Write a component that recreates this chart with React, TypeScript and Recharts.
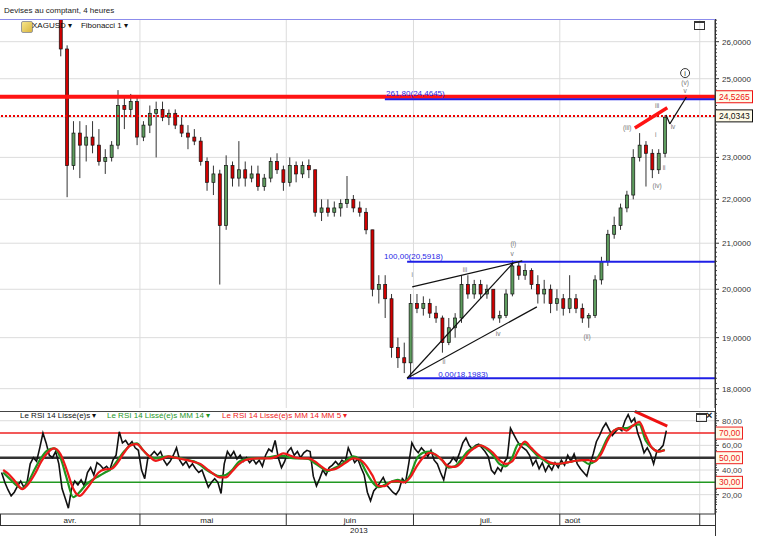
import React from 'react';
import { ComposedChart, Bar, Line, XAxis, YAxis, ReferenceLine, ReferenceDot, CartesianGrid } from 'recharts';

const FONT = '"Liberation Sans", Arial, Helvetica, sans-serif';

// ---- time axis (trading-day index, 0 = 1 April 2013) ----
const monthNames = ['avr.', 'mai', 'juin', 'juil.', 'août'];
const monthCenters = [11, 32.5, 55, 76.4, 90];
const monthBounds = [22, 45, 65, 88, 110];
const X_DOMAIN: [number, number] = [0, 112.4];

// ---- price panel ----
const priceTicks = [18, 19, 20, 21, 22, 23, 25, 26];
const priceGrid = [18, 19, 20, 21, 22, 23, 24, 25, 26];
const PRICE_DOMAIN: [number, number] = [17.635, 26.633];
const resistPrice = 24.5265;
const lastPrice = 24.0343;

const opens = [28.2, 28.0, 27.7, 27.3, 27.2, 27.6, 27.5, 28.0, 27.8, 27.6, 25.8, 22.8, 23.6, 23.3, 23.5, 23.3, 22.9, 23.0, 23.3, 24.3, 24.2, 24.4, 23.5, 23.8, 24.1, 24.2, 24.0, 24.1, 23.8, 23.6, 23.5, 23.4, 22.9, 22.4, 22.6, 21.4, 22.8, 22.5, 22.7, 22.5, 22.6, 22.3, 22.5, 22.9, 22.7, 22.4, 22.8, 22.6, 22.8, 22.7, 21.7, 21.8, 21.7, 21.8, 21.9, 22.0, 21.8, 21.7, 21.3, 20.0, 20.1, 19.8, 18.8, 18.6, 18.5, 19.7, 19.6, 19.7, 19.5, 19.4, 18.9, 19.2, 19.4, 20.1, 19.9, 20.1, 19.9, 20.0, 19.4, 19.45, 19.9, 20.5, 20.3, 20.4, 20.1, 19.9, 20.0, 19.7, 19.8, 19.6, 19.8, 19.6, 19.4, 19.45, 20.2, 20.6, 21.2, 21.4, 21.8, 22.1, 23.0, 23.3, 23.1, 22.7, 23.1];
const highs = [28.4, 28.1, 27.8, 27.5, 27.8, 27.9, 28.2, 28.1, 27.9, 27.8, 25.9, 23.9, 23.9, 23.8, 23.9, 23.7, 23.2, 23.4, 24.7, 24.5, 24.6, 24.5, 23.9, 24.3, 24.4, 24.4, 24.2, 24.2, 24.0, 23.8, 23.7, 23.5, 23.0, 22.8, 22.7, 23.05, 22.9, 23.4, 22.9, 22.8, 22.8, 22.6, 23.0, 23.1, 22.8, 23.0, 22.9, 22.9, 22.95, 22.7, 22.0, 22.0, 21.95, 22.0, 22.55, 22.1, 21.95, 21.8, 21.3, 20.3, 20.3, 19.9, 19.0, 18.9, 19.9, 19.9, 19.85, 19.8, 19.65, 19.45, 19.4, 19.5, 20.3, 20.3, 20.2, 20.2, 20.1, 20.0, 19.55, 20.0, 20.62, 20.6, 20.55, 20.45, 20.3, 20.2, 20.1, 20.0, 19.9, 20.3, 19.9, 19.7, 19.5, 20.3, 20.7, 21.3, 21.6, 21.9, 22.2, 23.2, 23.6, 23.4, 23.2, 23.2, 24.05];
const lows = [27.9, 27.6, 27.1, 26.9, 27.1, 27.4, 27.4, 27.6, 27.4, 25.6, 22.05, 22.7, 22.5, 22.9, 23.1, 22.8, 22.6, 22.9, 23.2, 23.7, 24.0, 23.3, 23.4, 23.6, 23.0, 23.9, 23.8, 23.7, 23.5, 23.2, 23.3, 22.8, 22.2, 22.1, 20.1, 21.3, 22.3, 22.3, 22.3, 22.4, 22.2, 22.2, 22.4, 22.6, 22.2, 22.3, 22.4, 22.5, 22.5, 21.6, 21.5, 21.6, 21.6, 21.6, 21.8, 21.7, 21.6, 21.2, 19.85, 19.7, 19.4, 18.6, 18.4, 18.3, 18.2, 19.5, 19.45, 19.4, 19.3, 18.7, 18.85, 19.0, 19.3, 19.8, 19.8, 19.8, 19.8, 19.35, 19.3, 19.4, 19.85, 20.2, 20.2, 20.0, 19.7, 19.7, 19.5, 19.55, 19.45, 19.5, 19.5, 19.3, 19.2, 19.4, 20.1, 20.5, 21.1, 21.3, 21.7, 22.0, 22.9, 22.3, 22.5, 22.6, 23.0];
const closes = [28.0, 27.7, 27.3, 27.2, 27.6, 27.5, 28.0, 27.8, 27.6, 25.8, 22.8, 23.6, 23.3, 23.5, 23.3, 22.9, 23.0, 23.3, 24.3, 24.2, 24.4, 23.5, 23.8, 24.1, 24.2, 24.0, 24.1, 23.8, 23.6, 23.5, 23.4, 22.9, 22.4, 22.6, 21.4, 22.8, 22.5, 22.7, 22.5, 22.6, 22.3, 22.5, 22.9, 22.7, 22.4, 22.8, 22.6, 22.8, 22.7, 21.7, 21.8, 21.7, 21.8, 21.9, 22.0, 21.8, 21.7, 21.3, 20.0, 20.1, 19.8, 18.8, 18.6, 18.5, 19.7, 19.6, 19.7, 19.5, 19.4, 18.9, 19.2, 19.4, 20.1, 19.9, 20.1, 19.9, 20.0, 19.4, 19.45, 19.9, 20.5, 20.3, 20.4, 20.1, 19.9, 20.0, 19.7, 19.8, 19.6, 19.8, 19.6, 19.4, 19.45, 20.2, 20.6, 21.2, 21.4, 21.8, 22.1, 23.0, 23.3, 23.1, 22.7, 23.1, 24.0];

// Fibonacci levels and their labels (day index, price)
const fibLevels = [
  { label: '261,80(24,4645)', price: 24.4645, from: 60.5, lx: 65.3, lp: 24.62 },
  { label: '100,00(20,5918)', price: 20.5918, from: 64, lx: 65.0, lp: 20.72 },
  { label: '0,00(18,1983)', price: 18.1983, from: 64, lx: 72.8, lp: 18.28 },
];

// Elliott-wave annotation lines (day index, price)
const waveLines = [
  [[64.8, 20.05], [82.1, 20.61]],
  [[64.0, 18.2], [80.7, 20.57]],
  [[64.0, 18.2], [84.4, 19.63]],
  [[104.7, 24.06], [105.3, 23.83]],
  [[105.3, 23.83], [107.9, 24.52]],
];
const priceTrend = [[99.8, 23.73], [104.9, 24.24]];
const waveLabels = [
  { t: 'i', x: 64.8, p: 20.31 }, { t: 'ii', x: 69.8, p: 18.52 }, { t: 'iii', x: 73.1, p: 20.41 },
  { t: 'iv', x: 78.3, p: 19.08 }, { t: 'v', x: 80.5, p: 20.76 }, { t: '(i)', x: 80.7, p: 20.98 },
  { t: '(ii)', x: 92.3, p: 19.01 }, { t: '(iii)', x: 98.6, p: 23.73 }, { t: '(iv)', x: 103.3, p: 22.31 },
  { t: 'i', x: 103.1, p: 23.55 }, { t: 'ii', x: 104.4, p: 22.74 }, { t: 'iii', x: 103.3, p: 24.29 },
  { t: 'iv', x: 105.8, p: 23.75 }, { t: 'v', x: 107.7, p: 24.68 }, { t: '(v)', x: 107.7, p: 24.89 },
];
const circledLabel = { t: 'i', x: 107.7, p: 25.15 };

// ---- RSI panel ----
const RSI_DOMAIN: [number, number] = [4.3, 87.9];
const rsiTicks = [20, 40, 60, 80];
const rsiLevels = [70, 50, 30];
// RSI 14 smoothed, two readings per day
const rsi = [38, 30, 24, 19, 22, 27, 31, 26, 30, 45, 50, 47, 58, 70, 62, 52, 50, 55, 45, 25, 17, 9, 25, 31, 28, 32, 27, 38, 42, 36, 46, 44, 41, 43, 40, 48, 52, 71, 62, 64, 60, 63, 58, 56, 40, 33, 50, 52, 55, 52, 55, 48, 44, 47, 52, 58, 48, 44, 47, 42, 45, 41, 38, 40, 33, 26, 30, 33, 30, 21, 45, 55, 51, 55, 49, 52, 47, 50, 46, 49, 45, 48, 43, 52, 57, 55, 64, 50, 42, 47, 55, 58, 52, 55, 50, 54, 56, 55, 35, 27, 33, 40, 36, 42, 44, 47, 44, 48, 46, 58, 52, 46, 49, 42, 36, 22, 15, 23, 26, 30, 34, 28, 25, 22, 20, 24, 33, 30, 45, 62, 57, 54, 58, 55, 51, 56, 48, 45, 38, 32, 44, 46, 50, 47, 54, 62, 66, 60, 57, 60, 61, 58, 55, 51, 40, 37, 42, 39, 46, 50, 74, 69, 64, 60, 58, 56, 52, 44, 48, 41, 46, 39, 44, 40, 46, 42, 48, 44, 52, 47, 53, 45, 41, 38, 35, 45, 53, 63, 68, 74, 78, 73, 68, 71, 74, 72, 80, 85, 79, 82, 70, 63, 54, 58, 53, 45, 55, 57, 60, 72];
// MM 14 and MM 14 MM 5, one reading per day
const rsiMM14 = [38, 33, 28, 25, 31, 41, 50, 56, 57.5, 50, 33, 18, 22, 28, 32, 35, 38, 41, 48, 55, 60, 61.6, 56, 51, 49.5, 50.5, 51, 50, 49.5, 48, 47, 44, 40, 37, 35, 36, 40, 46.5, 48.5, 49.5, 49.5, 49.5, 50.5, 51.5, 51.5, 50, 49.5, 49.5, 49, 45.5, 42, 39, 41.5, 44, 48, 51, 48.5, 39, 30.5, 26, 28, 30.5, 32, 30.5, 36, 49, 54, 55, 52, 48, 42, 43, 48.5, 55, 58.5, 60, 57, 52, 45, 43, 50, 61, 61, 57, 51.5, 48, 45, 45, 45.5, 46.5, 47.5, 48, 45, 47, 55, 66, 72, 74, 74, 76, 77, 64, 58, 55, 56.5];
const rsiMM5 = [40, 36, 30, 24.5, 29, 37, 47, 54, 57.5, 53, 40, 25, 19, 24, 31, 38, 40.5, 41, 46, 54, 60, 61, 56, 51, 47.5, 49, 51, 50, 49, 48, 46.5, 45, 41, 37, 34, 34, 39, 44.5, 48, 49, 49.5, 49.5, 49.5, 51, 53.5, 52, 50, 49.5, 49.5, 47, 43, 40, 40.5, 43, 46.5, 49.5, 48.5, 44, 36, 27, 27, 30.5, 31, 30, 34, 43, 50, 54, 52.5, 48, 43, 42.5, 46, 53, 57.5, 60, 58, 54, 48, 45, 47, 56, 63, 58, 53, 49, 46, 45, 45.5, 46.5, 47.5, 48, 48, 47, 53, 64, 72, 74, 72, 76, 79, 68, 58, 55, 56];
const rsiTrend = [[99.8, 87.5], [104.9, 75.7]];

// ---- rows built from the arrays ----
const candles = opens.map((o, i) => ({ t: i + 0.5, o, h: highs[i], l: lows[i], c: closes[i] }));
const rsiRows = rsi.map((v, k) => ({ t: (k + 0.5) / 2, v }));
const mm14Rows = rsiMM14.map((v, i) => ({ t: i + 0.5, v }));
const mm5Rows = rsiMM5.map((v, i) => ({ t: i + 0.5, v }));

// minor ruler marks on the axes
const priceMinor: number[] = [];
for (let k = 177; k <= 266; k++) if (k % 10 !== 0) priceMinor.push(k / 10);
const rsiMinor: number[] = [];
for (let k = 3; k <= 43; k++) if ((2 * k) % 10 !== 0) rsiMinor.push(2 * k);

const fmt4 = (v: number) => v.toFixed(4).replace('.', ',');
const fmt2 = (v: number) => v.toFixed(2).replace('.', ',');

const Candle = (props: any) => {
  const { x, y, width, height, payload } = props;
  if (!payload || x == null || y == null) return null;
  const { o, h, l, c } = payload;
  const y1 = Math.min(y, y + height);
  const y2 = Math.max(y, y + height);
  const lh = Math.log(h);
  const ll = Math.log(l);
  const py = (v: number) => (lh === ll ? y1 : y1 + ((y2 - y1) * (lh - Math.log(v))) / (lh - ll));
  const cx = x + width / 2;
  const top = py(Math.max(o, c));
  const bot = py(Math.min(o, c));
  const up = c >= o;
  return (
    <g>
      <line x1={cx} x2={cx} y1={y1} y2={y2} stroke="#333" strokeWidth={1} />
      <rect x={x} y={top} width={width} height={Math.max(1, bot - top)} fill={up ? '#5e9c5e' : '#d10000'} stroke="#111" strokeWidth={0.7} />
    </g>
  );
};

const Box = ({ x, y, text, color, w }: any) => (
  <g>
    <rect x={x + 0.5} y={y - 6} width={w} height={12} fill="#fffbe8" stroke={color} strokeWidth={1} />
    <text x={x + 4} y={y + 3} fontSize={8.5} fill={color} fontFamily={FONT}>{text}</text>
  </g>
);

const PriceTick = (p: any) => {
  const v = p.payload.value;
  const x = p.x;
  const y = p.y;
  if (v === resistPrice) return <Box x={x} y={y} text={fmt4(v)} color="#ee1111" w={37} />;
  if (v === lastPrice) return <Box x={x} y={y} text={fmt4(v)} color="#111" w={37} />;
  if (priceTicks.includes(v)) {
    return (
      <g>
        <line x1={x} x2={x + 4} y1={y} y2={y} stroke="#333" />
        <text x={x + 7} y={y + 3} fontSize={8} fill="#333" fontFamily={FONT}>{fmt4(v)}</text>
      </g>
    );
  }
  return <line x1={x} x2={x + 2} y1={y} y2={y} stroke="#444" />;
};

const RsiTick = (p: any) => {
  const v = p.payload.value;
  const x = p.x;
  const y = p.y;
  if (rsiLevels.includes(v)) return <Box x={x} y={y} text={fmt2(v)} color="#ee2222" w={27} />;
  if (rsiTicks.includes(v)) {
    return (
      <g>
        <line x1={x} x2={x + 4} y1={y} y2={y} stroke="#333" />
        <text x={x + 7} y={y + 3} fontSize={8} fill="#444" fontFamily={FONT}>{fmt2(v)}</text>
      </g>
    );
  }
  return <line x1={x} x2={x + 2} y1={y} y2={y} stroke="#444" />;
};

// bottom time band: dividers at month starts, names at month centres
const TimeTick = (p: any) => {
  const v = p.payload.value;
  const x = p.x;
  const y = p.y;
  const bi = monthBounds.indexOf(v);
  if (bi >= 0) return <line x1={x} x2={x} y1={y} y2={y + 11} stroke="#333" />;
  const ci = monthCenters.indexOf(v);
  if (ci >= 0) {
    return (
      <text x={x} y={y + 8.5} textAnchor="middle" fontSize={8} fill="#222" fontFamily={FONT}>{monthNames[ci]}</text>
    );
  }
  return null;
};

const abs = (l: number, t: number, extra: any = {}) => ({ position: 'absolute' as const, left: l, top: t, ...extra });
const txt: any = { fontFamily: FONT, fontSize: 8, whiteSpace: 'nowrap', lineHeight: '10px' };

export default function App() {
  return (
    <div style={{ position: 'absolute', left: 0, top: 0, width: 758, height: 536, background: '#fff', overflow: 'hidden', fontFamily: FONT }}>
      {/* main price panel */}
      <div style={abs(0, 0)}>
        <ComposedChart width={758} height={408} data={candles} margin={{ top: 19, right: 0, bottom: 0, left: 0 }}>
          <CartesianGrid stroke="#dcdcdc" horizontalValues={priceGrid} verticalValues={monthBounds} />
          <XAxis dataKey="t" type="number" domain={X_DOMAIN} allowDataOverflow hide />
          <YAxis orientation="right" width={43} scale="log" domain={PRICE_DOMAIN} allowDataOverflow
            ticks={[...priceMinor, ...priceTicks, resistPrice, lastPrice]} interval={0}
            tick={<PriceTick />} tickLine={false} tickSize={0} tickMargin={0} axisLine={{ stroke: '#333' }} />
          <ReferenceLine y={resistPrice} stroke="#ff1414" strokeWidth={4} />
          <ReferenceLine y={lastPrice} stroke="#ee0000" strokeWidth={2} strokeDasharray="2 2" />
          {fibLevels.map((f, i) => (
            <ReferenceLine key={'fib' + i} segment={[{ x: f.from, y: f.price }, { x: X_DOMAIN[1], y: f.price }]} stroke="#1f1fe6" strokeWidth={2} />
          ))}
          <Bar dataKey={(d: any) => [d.l, d.h]} barSize={3} shape={<Candle />} isAnimationActive={false} />
          {waveLines.map((s, i) => (
            <ReferenceLine key={'wl' + i} segment={[{ x: s[0][0], y: s[0][1] }, { x: s[1][0], y: s[1][1] }]} stroke="#111" strokeWidth={1.2} />
          ))}
          <ReferenceLine segment={[{ x: priceTrend[0][0], y: priceTrend[0][1] }, { x: priceTrend[1][0], y: priceTrend[1][1] }]} stroke="#ff1414" strokeWidth={3.5} />
          {fibLevels.map((f, i) => (
            <ReferenceDot key={'fl' + i} x={f.lx} y={f.lp} r={0} fill="none" stroke="none"
              label={{ value: f.label, position: 'center', fontSize: 8, fill: '#1f1fe6', fontFamily: FONT }} />
          ))}
          {waveLabels.map((w, i) => (
            <ReferenceDot key={'wv' + i} x={w.x} y={w.p} r={0} fill="none" stroke="none"
              label={{ value: w.t, position: 'center', fontSize: 6.5, fill: '#777', fontFamily: FONT }} />
          ))}
          <ReferenceDot x={circledLabel.x} y={circledLabel.p} r={4.5} fill="#fff" stroke="#333" strokeWidth={1}
            label={{ value: circledLabel.t, position: 'center', fontSize: 7, fill: '#222', fontFamily: FONT }} />
        </ComposedChart>
      </div>

      {/* RSI panel with the time band as its x axis */}
      <div style={abs(0, 405)}>
        <ComposedChart width={758} height={121} margin={{ top: 6, right: 0, bottom: 0, left: 0 }}>
          <CartesianGrid stroke="#dcdcdc" horizontalValues={rsiTicks} verticalValues={monthBounds} />
          <XAxis dataKey="t" type="number" domain={X_DOMAIN} allowDataOverflow height={12}
            ticks={[...monthBounds, ...monthCenters]} interval={0} tick={<TimeTick />}
            tickLine={false} tickSize={0} tickMargin={0} axisLine={{ stroke: '#333' }} />
          <YAxis orientation="right" width={43} domain={RSI_DOMAIN} allowDataOverflow
            ticks={[...rsiMinor, ...rsiTicks, ...rsiLevels]} interval={0}
            tick={<RsiTick />} tickLine={false} tickSize={0} tickMargin={0} axisLine={{ stroke: '#333' }} />
          <ReferenceLine y={70} stroke="#ee2222" strokeWidth={1.5} />
          <ReferenceLine y={50} stroke="#333" strokeWidth={2.5} />
          <ReferenceLine y={30} stroke="#229922" strokeWidth={1.5} />
          <Line data={rsiRows} dataKey="v" type="linear" stroke="#111" strokeWidth={1.6} dot={false} isAnimationActive={false} />
          <Line data={mm14Rows} dataKey="v" type="monotone" stroke="#1f961f" strokeWidth={2.2} dot={false} isAnimationActive={false} />
          <Line data={mm5Rows} dataKey="v" type="monotone" stroke="#ee1a1a" strokeWidth={2.2} dot={false} isAnimationActive={false} />
          <ReferenceLine segment={[{ x: rsiTrend[0][0], y: rsiTrend[0][1] }, { x: rsiTrend[1][0], y: rsiTrend[1][1] }]} stroke="#ee1111" strokeWidth={3} />
        </ComposedChart>
      </div>

      {/* frame lines */}
      <div style={abs(0, 19, { width: 715, height: 1, background: '#8c8cec' })} />
      <div style={abs(0, 411, { width: 715, height: 1, background: '#444' })} />
      <div style={abs(0, 525, { width: 715, height: 1, background: '#333' })} />
      <div style={abs(0, 514, { width: 1, height: 11, background: '#333' })} />
      <div style={abs(715, 19, { width: 1, height: 517, background: '#333' })} />

      {/* headers and legends */}
      <div style={abs(4, 6, { ...txt, color: '#222' })}>Devises au comptant, 4 heures</div>
      <div style={abs(21, 21, { width: 10, height: 10, borderRadius: 2, background: 'linear-gradient(135deg,#f7e58a,#d9b640)', border: '1px solid #999' })} />
      <div style={abs(32, 21, { ...txt, color: '#111' })}>XAGUSD ▾&nbsp;&nbsp;&nbsp;&nbsp;Fibonacci 1 ▾</div>
      <div style={abs(694, 21, { width: 9, height: 6, border: '1px solid #333', borderTopWidth: 2 })} />
      <div style={abs(20, 411, { ...txt, color: '#111' })}>Le RSI 14 Lissé(e)s ▾</div>
      <div style={abs(107, 411, { ...txt, color: '#1f961f' })}>Le RSI 14 Lissé(e)s MM 14 ▾</div>
      <div style={abs(222, 411, { ...txt, color: '#ee2222' })}>Le RSI 14 Lissé(e)s MM 14 MM 5 ▾</div>
      <div style={abs(696, 413, { width: 9, height: 6, border: '1px solid #333', borderTopWidth: 2 })} />
      <div style={abs(706, 409, { fontFamily: FONT, fontSize: 11, fontWeight: 'bold', color: '#222', lineHeight: '12px' })}>×</div>
      <div style={abs(350, 526, { ...txt, color: '#222' })}>2013</div>
    </div>
  );
}
